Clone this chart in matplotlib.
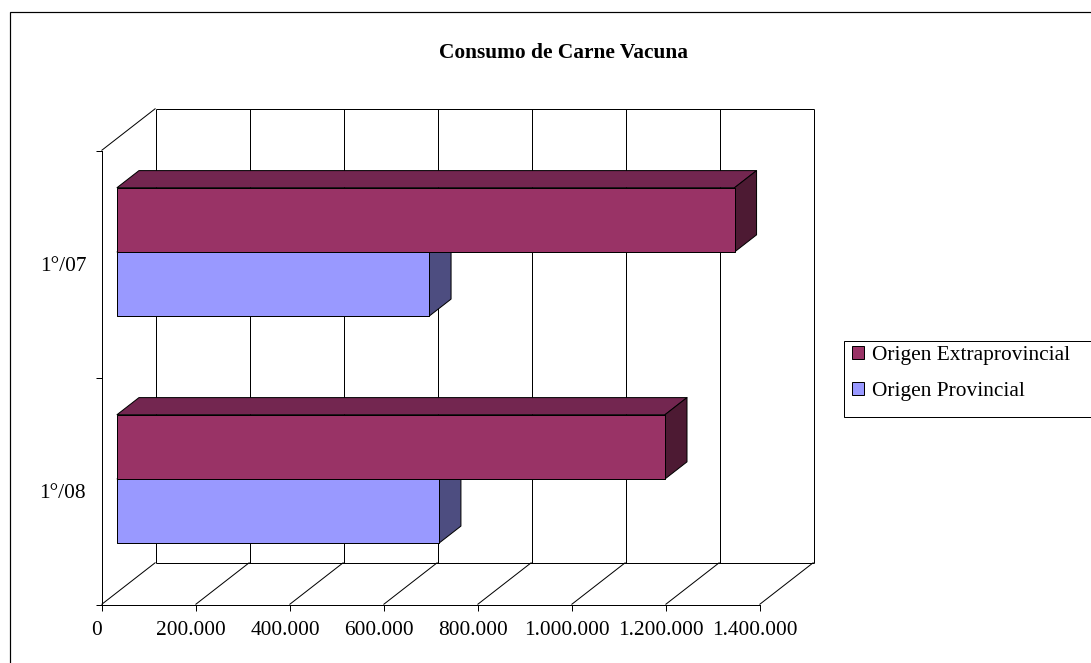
import matplotlib
matplotlib.use("Agg")
import matplotlib.pyplot as plt
from matplotlib.patches import Patch, Polygon, Rectangle
from matplotlib.transforms import ScaledTranslation

plt.rcParams['font.family'] = ['Liberation Serif', 'DejaVu Serif']

title = "Consumo de Carne Vacuna"
categories = ["1°/08", "1°/07"]
origen_provincial = [685000, 664000]
origen_extraprovincial = [1166000, 1314000]
x_ticks = [0, 200000, 400000, 600000, 800000, 1000000, 1200000, 1400000]
x_tick_labels = ["0", "200.000", "400.000", "600.000", "800.000", "1.000.000", "1.200.000", "1.400.000"]

W, H = 1091, 663
XMAX = x_ticks[-1]
FS = 15.4
LW = 0.72
C_EXT, C_EXT_TOP, C_EXT_SIDE = "#993366", "#732650", "#4D1A33"
C_PRO, C_PRO_TOP, C_PRO_SIDE = "#9999FF", "#7373BF", "#4D4D80"


def fx(px):
    return px / W


def fy(px):
    return 1 - px / H


fig = plt.figure(figsize=(W / 100, H / 100), dpi=100)
fig.patch.set_facecolor("white")

# outer chart border (runs off the right and bottom of the image)
fig.add_artist(Rectangle((fx(9.5), fy(H + 20)), fx(W + 20), fy(12) - fy(H + 20),
                         transform=fig.transFigure, fill=False, ec="black", lw=LW * 1.2))

# front plane of the oblique 3-D box
left, right, top, bottom = 101.5, 759.5, 150.5, 604.5
ax = fig.add_axes([fx(left), fy(bottom), fx(right - left), (bottom - top) / H])
ax.set_xlim(0, XMAX)
ax.set_ylim(0, len(categories))
ax.patch.set_alpha(0)

DX = 54 / (right - left) * XMAX
DY = 42 / (bottom - top) * len(categories)


def proj(v, c, d):
    return (v + d * DX, c + d * DY)


def line(p, q, z=1):
    ax.plot([p[0], q[0]], [p[1], q[1]], color="black", lw=LW, clip_on=False,
            solid_capstyle="butt", zorder=z)


ncat = len(categories)
for v in x_ticks:
    line(proj(v, 0, 0), proj(v, 0, 1))
    line(proj(v, 0, 1), proj(v, ncat, 1))
line(proj(0, 0, 1), proj(XMAX, 0, 1))
line(proj(0, ncat, 1), proj(XMAX, ncat, 1))
line(proj(0, ncat, 0), proj(0, ncat, 1))

D0, D1 = 0.287, 0.694
THICK = 0.283


def box(v, lo, hi, front, top_c, side):
    pts_top = [proj(0, hi, D0), proj(v, hi, D0), proj(v, hi, D1), proj(0, hi, D1)]
    pts_side = [proj(v, lo, D0), proj(v, lo, D1), proj(v, hi, D1), proj(v, hi, D0)]
    pts_front = [proj(0, lo, D0), proj(v, lo, D0), proj(v, hi, D0), proj(0, hi, D0)]
    for pts, col in ((pts_top, top_c), (pts_side, side), (pts_front, front)):
        ax.add_patch(Polygon(pts, closed=True, fc=col, ec="black", lw=LW,
                             clip_on=False, zorder=3, joinstyle="round"))


for i in range(ncat):
    c = i + 0.5
    box(origen_provincial[i], c - THICK, c, C_PRO, C_PRO_TOP, C_PRO_SIDE)
    box(origen_extraprovincial[i], c, c + THICK, C_EXT, C_EXT_TOP, C_EXT_SIDE)

for s in ("top", "right"):
    ax.spines[s].set_visible(False)
for s in ("left", "bottom"):
    ax.spines[s].set_linewidth(LW)

ax.set_xticks(x_ticks)
ax.set_xticklabels(x_tick_labels, fontsize=FS)
ax.tick_params(axis="x", length=4.3, width=LW, pad=7.5)
shift = ScaledTranslation(-4.5 / 100, 0, fig.dpi_scale_trans)
for lab in ax.get_xticklabels():
    lab.set_transform(lab.get_transform() + shift)

ax.set_yticks(range(ncat + 1))
ax.set_yticklabels([""] * (ncat + 1))
ax.tick_params(axis="y", which="major", length=4.3, width=LW)
ax.set_yticks([i + 0.5 for i in range(ncat)], minor=True)
ax.set_yticklabels(categories, minor=True, fontsize=FS)
ax.tick_params(axis="y", which="minor", length=0, pad=11)

fig.text(fx(563.5), fy(53), title, ha="center", va="center", fontsize=FS, fontweight="bold")

# legend
fig.add_artist(Rectangle((fx(843.5), fy(416.5)), fx(W), (416.5 - 340.5) / H,
                         transform=fig.transFigure, fc="white", ec="black", lw=LW, zorder=4))
FS_PX = FS * 100 / 72
handles = [Patch(fc=C_EXT, ec="black", lw=LW), Patch(fc=C_PRO, ec="black", lw=LW)]
leg = fig.legend(handles, ["Origen Extraprovincial", "Origen Provincial"],
                 loc="upper left", bbox_to_anchor=(fx(851.5), fy(346)),
                 frameon=False, fontsize=FS, borderpad=0, borderaxespad=0,
                 handlelength=12 / FS_PX, handleheight=12 / FS_PX,
                 handletextpad=8.5 / FS_PX, labelspacing=0.77)
leg.set_zorder(5)

fig.savefig("out.png", dpi=100, facecolor="white")
